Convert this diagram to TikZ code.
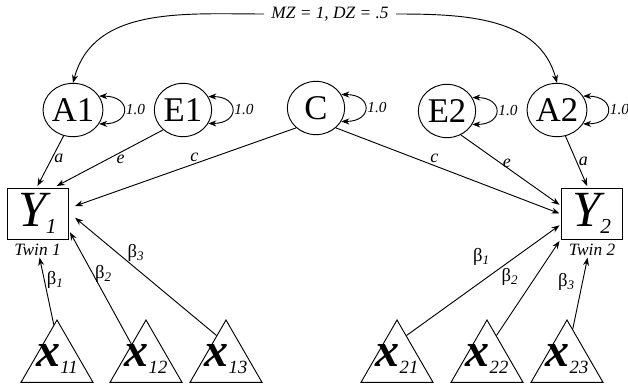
\documentclass[tikz,border=0pt]{standalone}
\usepackage{fontspec}
\setmainfont{Liberation Serif}
\usetikzlibrary{arrows.meta,positioning,shapes.geometric}
\tikzset{>={Stealth[length=6pt,width=4.5pt]}}

\newcommand{\yvar}[1]{{\fontsize{38}{38}\selectfont\itshape Y\kern-0.5pt\raisebox{-5pt}{\fontsize{16}{16}\selectfont #1}}}
\newcommand{\xvar}[1]{\smash{\makebox[0pt]{\raisebox{-4pt}{\fontsize{36}{36}\selectfont\bfseries\itshape x\kern0pt\raisebox{-5pt}{\fontsize{14}{14}\selectfont\mdseries #1}}}}}
\newcommand{\bcoef}[1]{β\textsubscript{\itshape #1}}

\begin{document}
\begin{tikzpicture}[
    x=0.75pt, y=-0.75pt, line width=0.7pt,
    latent/.style={draw, ellipse, minimum width=43pt, minimum height=40pt, inner sep=0pt, font=\fontsize{26}{26}\selectfont},
    observed/.style={draw, minimum width=45.75pt, minimum height=38.25pt, inner sep=0pt, outer sep=1.5pt},
    covariate/.style={draw, regular polygon, regular polygon sides=3, minimum size=62.4pt, inner sep=0pt},
    twin/.style={font=\fontsize{13}{13}\selectfont\itshape, inner sep=1pt},
    coef/.style={font=\fontsize{13.5}{13.5}\selectfont\itshape, inner sep=1.5pt},
    var/.style={font=\fontsize{11.5}{11.5}\selectfont\itshape, inner sep=1.5pt},
    beta/.style={font=\fontsize{14}{14}\selectfont, inner sep=1.5pt},
    arr/.style={->},
    varloop/.style={<->, out=0, in=0, looseness=3},
    node distance=1pt
  ]
    \useasboundingbox (0,0) rectangle (628,385);

    % latent factors
    \node[latent] (A1) at (73,110) {A1};
    \node[latent] (E1) at (183,110) {E1};
    \node[latent] (C) at (316,108) {C};
    \node[latent] (E2) at (447,111) {E2};
    \node[latent] (A2) at (557,110) {A2};
    \node[coef, font=\fontsize{13}{13}\selectfont\itshape, inner sep=5pt] (corr) at (330,14) {MZ = 1, DZ = .5};

    % twins
    \node[observed] (Y1) at (37.5,213.5) {\yvar{1}};
    \node[observed] (Y2) at (592,213.5) {\yvar{2}};
    \node[twin, below=of Y1] (tw1) {Twin 1};
    \node[twin, below=of Y2] (tw2) {Twin 2};

    % covariates
    \node[covariate] (x11) at (57,361.6) {\xvar{11}};
    \node[covariate] (x12) at (146,361.6) {\xvar{12}};
    \node[covariate] (x13) at (226,361.6) {\xvar{13}};
    \node[covariate] (x21) at (397,361.6) {\xvar{21}};
    \node[covariate] (x22) at (487,361.6) {\xvar{22}};
    \node[covariate] (x23) at (567,361.6) {\xvar{23}};

    \draw[arr] (corr.west) to[out=180, in=75] (A1.north);
    \draw[arr] (corr.east) to[out=0, in=105] (A2.north);

    \draw[varloop] (A1.28) to node[var, right] {1.0} (A1.-28);
    \draw[varloop] (E1.28) to node[var, right] {1.0} (E1.-28);
    \draw[varloop] (C.28) to node[var, right] {1.0} (C.-28);
    \draw[varloop] (E2.28) to node[var, right] {1.0} (E2.-28);
    \draw[varloop] (A2.28) to node[var, right] {1.0} (A2.-28);

    \draw[arr] (A1.250) -- node[coef, right, pos=0.45] {a} (Y1.north);
    \draw[arr] (E1.225) -- node[coef, below, pos=0.4] {e} (Y1.55);
    \draw[arr, shorten >=4pt] (C.225) -- node[coef, above, pos=0.45] {c} (Y1.10);
    \draw[arr] (C.315) -- node[coef, above, pos=0.44] {c} (Y2.west);
    \draw[arr] (E2.300) -- node[coef, right, pos=0.4] {e} (Y2.165);
    \draw[arr] (A2.288) -- node[coef, right, pos=0.5] {a} (Y2.100);

    \draw[arr] (x11.95) -- node[beta, right, pos=0.66] {\bcoef{1}} (tw1.285);
    \draw[arr] (x12.130) -- node[beta, right, pos=0.63] {\bcoef{2}} (Y1.330);
    \draw[arr, shorten >=5pt] (x13.110) -- node[beta, above=3pt, pos=0.55] {\bcoef{3}} (Y1.east);
    \draw[arr] (x21.70) -- node[beta, above=10pt, pos=0.49] {\bcoef{1}} (Y2.200);
    \draw[arr] (x22.70) -- node[beta, left=11pt, pos=0.62] {\bcoef{2}} (Y2.south west);
    \draw[arr] (x23.80) -- node[beta, left=4pt, pos=0.66] {\bcoef{3}} (tw2.240);
\end{tikzpicture}
\end{document}
